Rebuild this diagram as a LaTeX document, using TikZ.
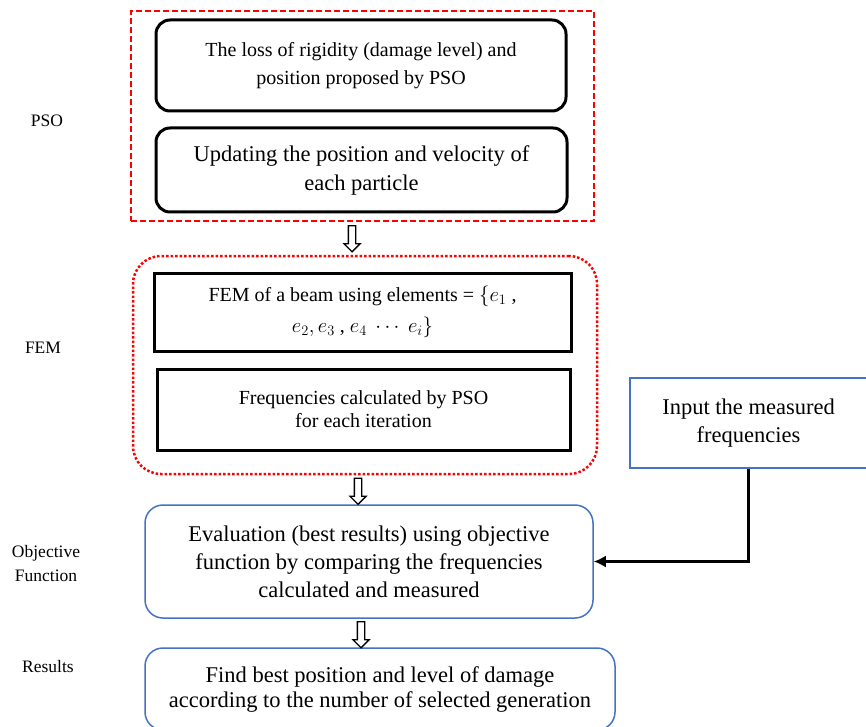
\documentclass[tikz,border=0pt]{standalone}
\usepackage{fontspec}
\setmainfont{Liberation Serif}
\usetikzlibrary{shapes.arrows,arrows.meta}
\definecolor{bl}{RGB}{68,114,196}
\definecolor{rd}{RGB}{255,0,0}
\newcommand{\fs}[2]{\fontsize{#1}{#2}\selectfont}
\tikzset{
  rbox/.style={draw=black, line width=3pt, rounded corners=14pt, align=center, inner sep=0pt},
  sbox/.style={draw=black, line width=3pt, align=center, inner sep=0pt},
  bbox/.style={draw=bl, line width=1.5pt, rounded corners=18pt, align=center, inner sep=0pt},
  ibox/.style={draw=bl, line width=1.5pt, align=center, inner sep=0pt},
  side/.style={align=center, font=\fs{17.5}{24}},
  blockarrow/.style={single arrow, draw=black, line width=1.3pt, fill=white, shape border rotate=270,
     minimum height=26pt, inner sep=3pt, single arrow head extend=4.5pt, single arrow tip angle=90},
}
\begin{document}
\begin{tikzpicture}[x=1pt,y=-1pt]
\useasboundingbox (0,0) rectangle (866,727);
% PSO group
\node[draw=rd, dash pattern=on 6pt off 3pt, line width=2pt, minimum width=463pt, minimum height=210pt, inner sep=0pt] (psoframe) at (362.5,116) {};
\node[rbox, minimum width=410pt, minimum height=91pt, font=\fs{20}{28}] (b1) at (361,65.5)
  {The loss of rigidity (damage level) and\\position proposed by PSO};
\node[rbox, minimum width=411pt, minimum height=84pt, font=\fs{22.5}{29}] (b2) at (361.5,170)
  {Updating the position and velocity of\\each particle};
% FEM group
\node[draw=rd, dotted, line width=2.5pt, rounded corners=28pt, minimum width=464pt, minimum height=218pt, inner sep=0pt] (femframe) at (365,365) {};
\node[sbox, minimum width=417pt, minimum height=78pt, font=\fs{20}{31}] (b3) at (362.5,312)
  {FEM of a beam using elements = $\{e_1$ ,\\$e_2, e_3$ , $e_4 \ \cdots\ e_i\}$};
\node[sbox, minimum width=413pt, minimum height=81pt, font=\fs{20}{23}] (b4) at (363.5,409.5)
  {Frequencies calculated by PSO\\for each iteration};
% Objective
\node[bbox, minimum width=448pt, minimum height=113pt, font=\fs{22.5}{28}] (ev) at (369,561.5)
  {Evaluation (best results) using objective\\function by comparing the frequencies\\calculated and measured};
\node[ibox, minimum width=237pt, minimum height=90pt, font=\fs{22.5}{28}] (inp) at (748.5,423)
  {Input the measured\\frequencies};
% Results
\node[bbox, minimum width=470pt, minimum height=82pt, font=\fs{22.5}{25}] (res) at (380,689)
  {Find best position and level of damage\\according to the number of selected generation};
% block arrows
\node[blockarrow] (a1) at (352,237) {};
\node[blockarrow] (a2) at (358,489.5) {};
\node[blockarrow] (a3) at (361,633) {};
% connector
\draw[line width=2.2pt, -{Latex[length=12pt,width=12pt]}] (inp.south) |- (ev.east);
% side labels
\node[side] (l1) at (47,121) {PSO};
\node[side] (l2) at (43,348) {FEM};
\node[side] (l3) at (46,564) {Objective\\Function};
\node[side] (l4) at (48,667) {Results};
\end{tikzpicture}
\end{document}
